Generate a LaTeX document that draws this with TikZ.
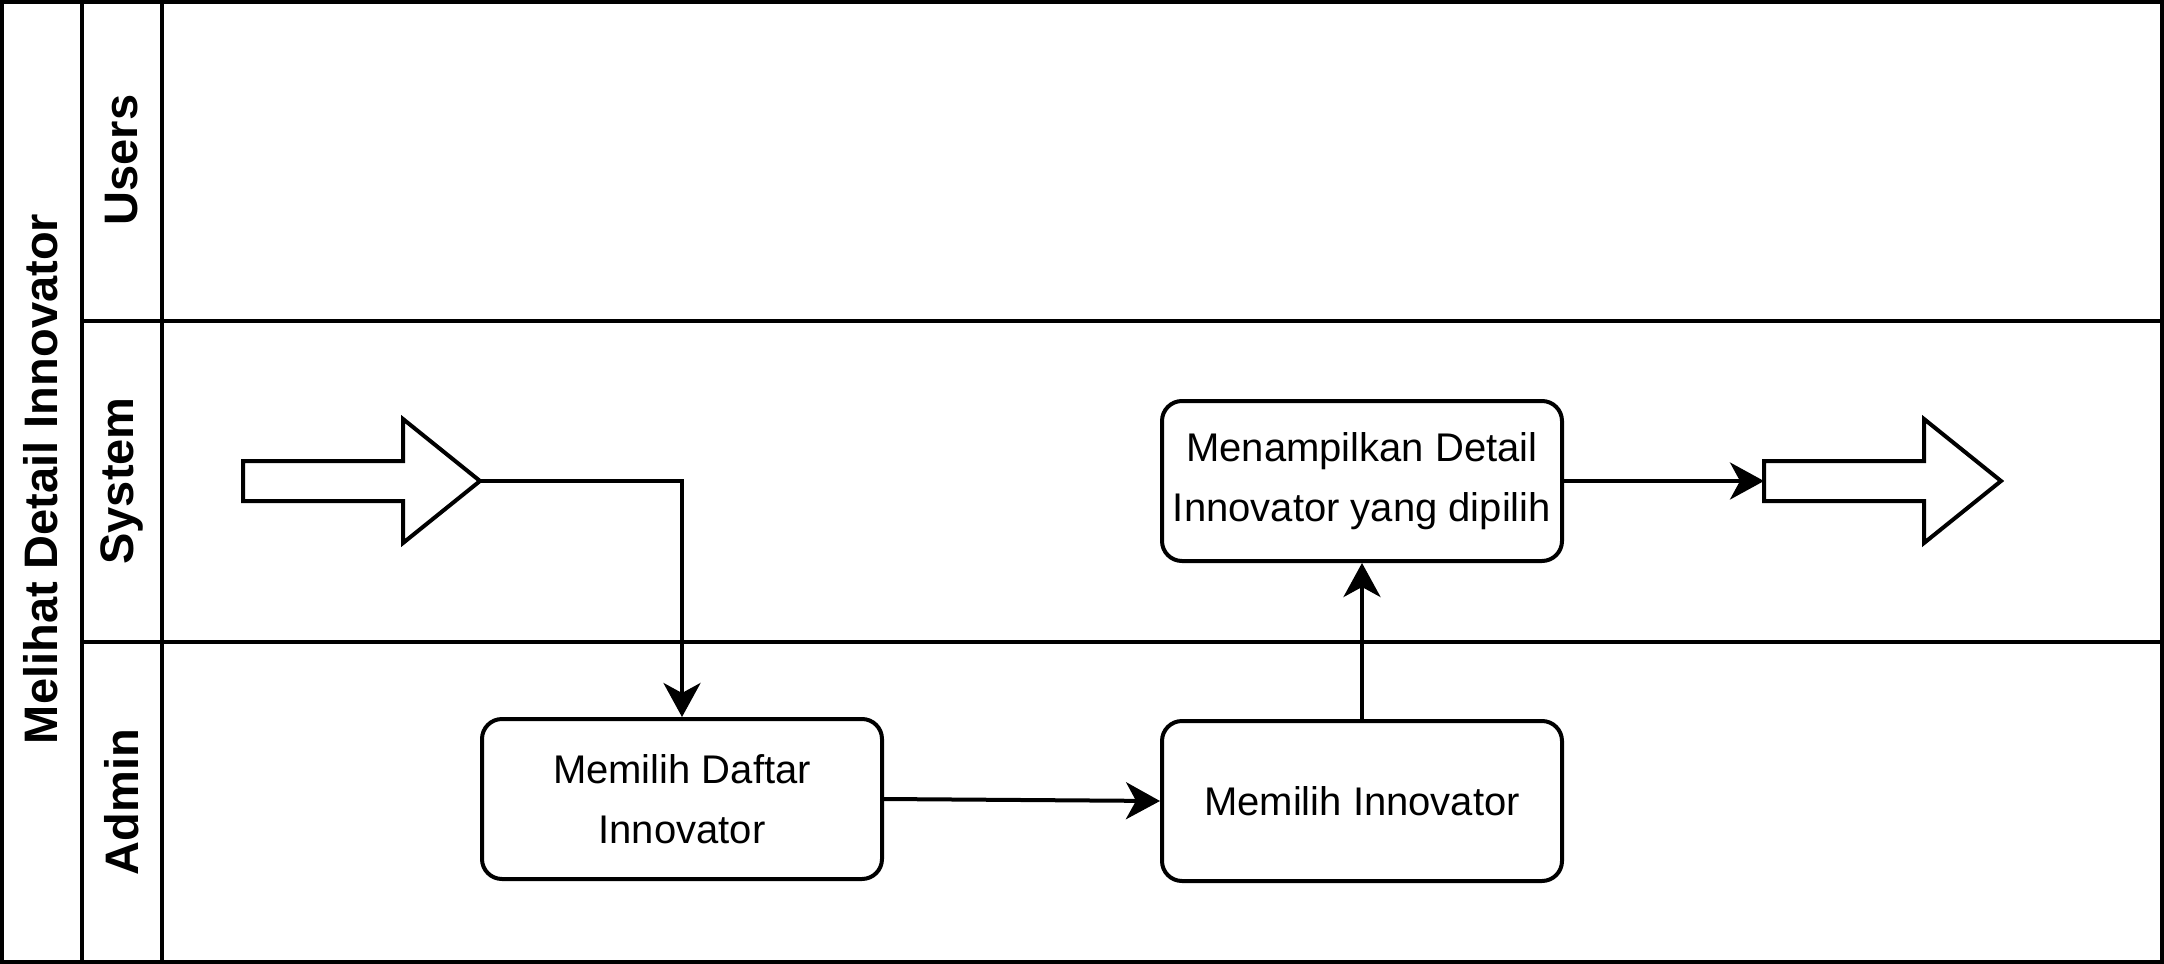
\documentclass[tikz,border=0pt]{standalone}
\usepackage{fontspec}
\setmainfont{Liberation Sans}
\usepackage{tikz}
\usetikzlibrary{
    arrows.meta,
    positioning
}
\tikzstyle{lane} = [
    draw=black,
    line width=4pt
]
\tikzstyle{act} = [
    rectangle, draw,
    rounded corners=20pt,
    minimum width=400pt,
    minimum height=160pt,
    text centered,
    align=center,
    line width=4pt,
    font=\fontsize{40}{60}\selectfont
]
\tikzstyle{flow} = [
    line width=4pt,
    -{Stealth[length=34pt,width=37pt,inset=10pt]}
]
\tikzstyle{blok} = [
    draw, line width=4pt, fill=white
]
\tikzstyle{lanelabel} = [
    rotate=90,
    font=\bfseries\fontsize{47}{56}\selectfont
]

\begin{document}
\begin{tikzpicture}[x=1pt, y=-1pt]
    \useasboundingbox (0,0) rectangle (2164,964);
    % pool and lanes
    \draw[lane] (2,2) rectangle (2162,962);
    \draw[lane] (82,0) -- (82,964);
    \draw[lane] (162,0) -- (162,964);
    \draw[lane] (82,321) -- (2164,321);
    \draw[lane] (82,642) -- (2164,642);
    \node[lanelabel] (judul)  at (41,479)  {Melihat Detail Innovator};
    \node[lanelabel] (users)  at (122,160) {Users};
    \node[lanelabel] (system) at (122,481) {System};
    \node[lanelabel] (admin)  at (122,802) {Admin};
    % start and end
    \draw[blok] (243,461) -- (403,461) -- (403,419) -- (480,481)
        -- (403,543) -- (403,501) -- (243,501) -- cycle;
    \coordinate (mulai) at (480,481);
    \draw[blok] (1764,461) -- (1924,461) -- (1924,419) -- (2001,481)
        -- (1924,543) -- (1924,501) -- (1764,501) -- cycle;
    \coordinate (selesai) at (1764,481);
    % activities
    \node[act] (pilihDaftar)  at (682,799)  {Memilih Daftar\\Innovator};
    \node[act] (pilihInnov)   at (1362,801) {Memilih Innovator};
    \node[act] (tampilDetail) at (1362,481) {Menampilkan Detail\\Innovator yang dipilih};
    % flow
    \draw[flow] (mulai) -| (pilihDaftar.north);
    \draw[flow] (pilihDaftar.east) -- (pilihInnov.west);
    \draw[flow] (pilihInnov.north) -- (tampilDetail.south);
    \draw[flow] (tampilDetail.east) -- (selesai);
\end{tikzpicture}
\end{document}
